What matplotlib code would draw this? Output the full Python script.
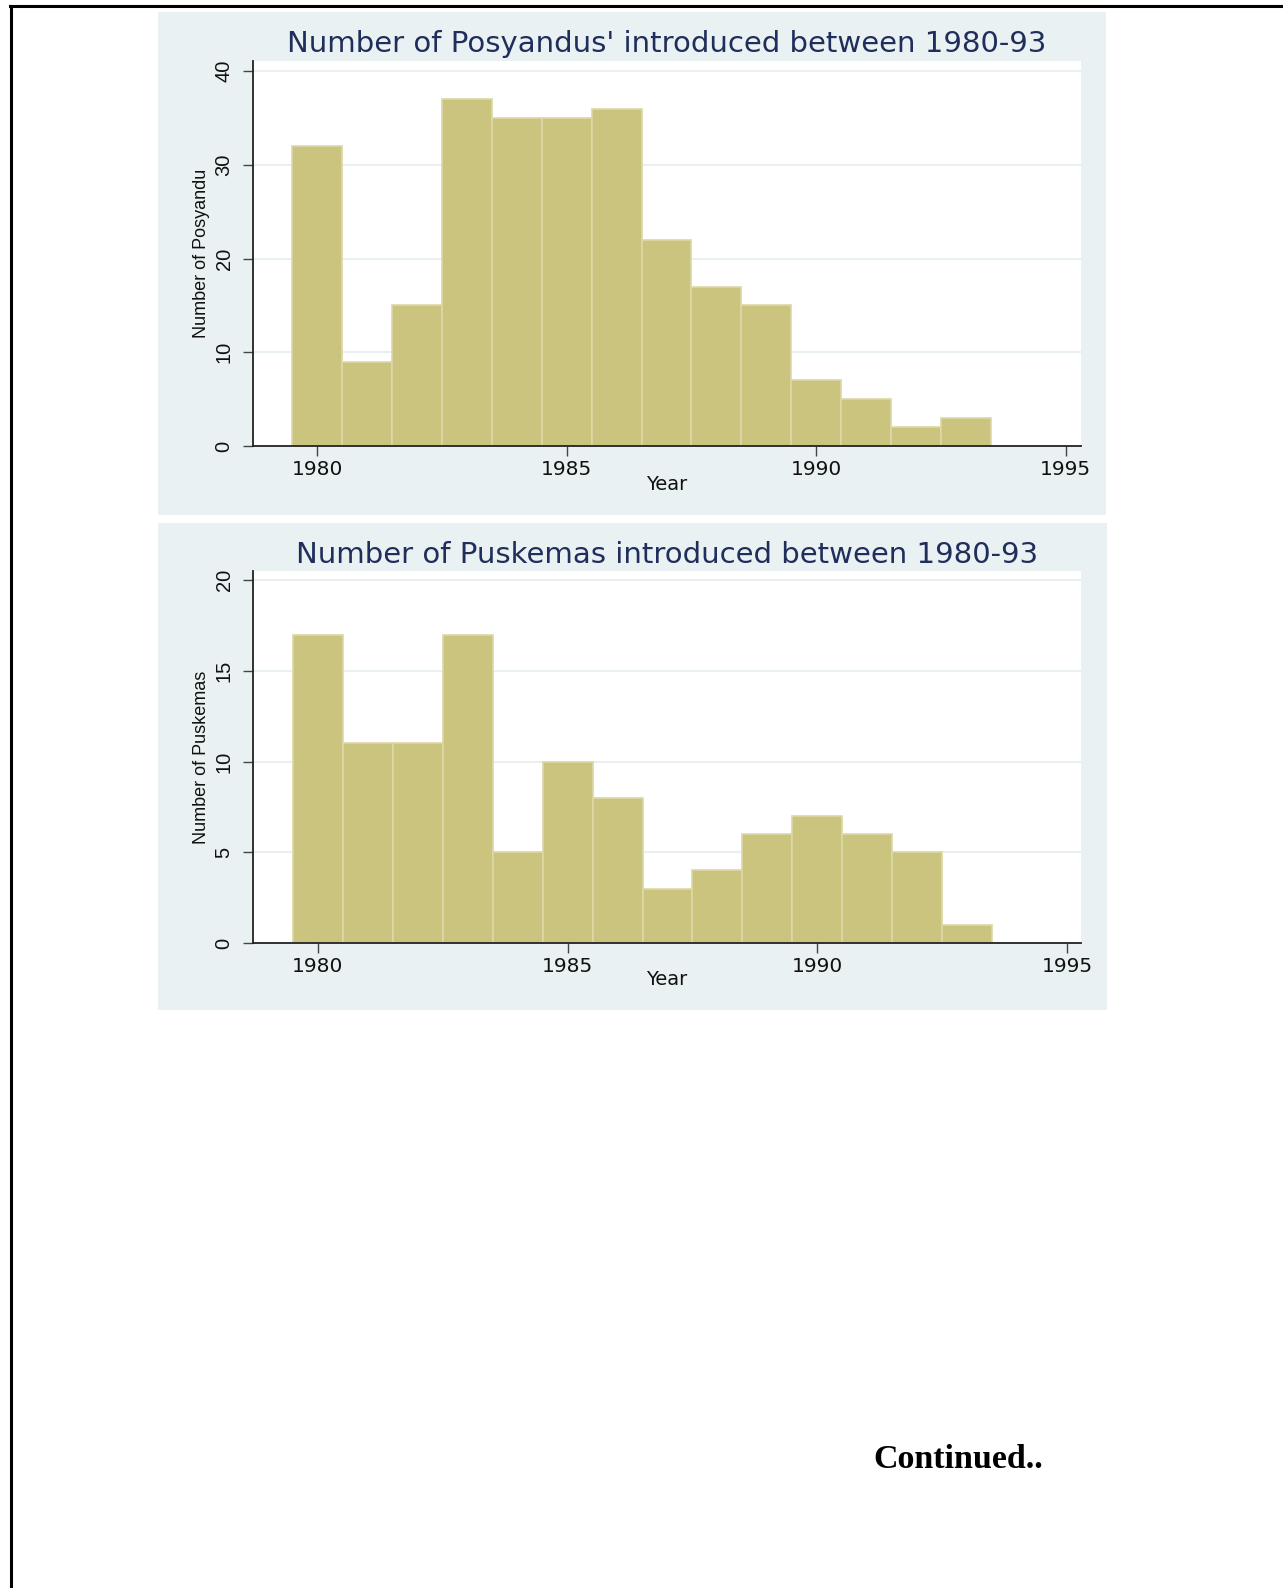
import matplotlib
matplotlib.use("Agg")
import matplotlib.pyplot as plt
from matplotlib.patches import Rectangle
from matplotlib.lines import Line2D

# ── Dados ─────────────────────────────────────────────────────────────────────
years = [1980, 1981, 1982, 1983, 1984, 1985, 1986,
         1987, 1988, 1989, 1990, 1991, 1992, 1993]
posyandu = [32, 9, 15, 37, 35, 35, 36, 22, 17, 15, 7, 5, 2, 3]
puskemas = [17, 11, 11, 17, 5, 10, 8, 3, 4, 6, 7, 6, 5, 1]

x_ticks = [1980, 1985, 1990, 1995]
y_ticks_top = [0, 10, 20, 30, 40]
y_ticks_bottom = [0, 5, 10, 15, 20]

title_top = "Number of Posyandus' introduced between 1980-93"
title_bottom = "Number of Puskemas introduced between 1980-93"
ylabel_top = "Number of Posyandu"
ylabel_bottom = "Number of Puskemas"

# ── Paleta (estilo Stata s2color) ─────────────────────────────────────────────
COLORS = {
    "panel": "#EAF1F3",
    "bar": "#CBC47F",
    "bar_edge": "#DDD8A6",
    "grid": "#E9F0F2",
    "title": "#1F2E5A",
    "axis": "#222222",
}

W, H = 1283, 1588
fig = plt.figure(figsize=(W / 100, H / 100), dpi=100)
fig.patch.set_facecolor("white")


def fx(px):
    return px / W


def fy(py):
    return 1 - py / H


def add_panel(x0, y0, x1, y1):
    fig.patches.append(Rectangle((fx(x0), fy(y1)), fx(x1 - x0), (y1 - y0) / H,
                                 transform=fig.transFigure, facecolor=COLORS["panel"],
                                 edgecolor="none", zorder=-5))


def draw_hist(box, counts, ylim, yticks, xlim, title, ylabel, title_y, ylab_x, xlab_y):
    x0, y0, x1, y1 = box
    ax = fig.add_axes([fx(x0), fy(y1), fx(x1 - x0), (y1 - y0) / H], zorder=2)
    ax.set_facecolor("white")
    ax.bar(years, counts, width=1.0, align="center", color=COLORS["bar"],
           edgecolor=COLORS["bar_edge"], linewidth=1.2, zorder=2)
    ax.set_xlim(*xlim)
    ax.set_ylim(*ylim)
    ax.set_xticks(x_ticks)
    ax.set_yticks(yticks)
    ax.yaxis.grid(True, color=COLORS["grid"], linewidth=1.5)
    ax.set_axisbelow(True)
    for side in ("top", "right"):
        ax.spines[side].set_visible(False)
    for side in ("left", "bottom"):
        ax.spines[side].set_color(COLORS["axis"])
        ax.spines[side].set_linewidth(1.3)
    ax.tick_params(axis="both", length=7, width=1.0, color="#444444")
    ax.tick_params(axis="x", pad=3)
    ax.tick_params(axis="y", pad=7)
    ax.set_xticklabels([str(t) for t in x_ticks], fontsize=14.5,
                       family="DejaVu Sans", color="#111111")
    ax.set_yticklabels([str(t) for t in yticks], fontsize=14.5, rotation=90,
                       va="center", family="Liberation Sans", color="#111111")

    cx = (x0 + x1) / 2
    fig.text(fx(cx), fy(title_y), title, ha="center", va="center",
             fontsize=21, family="DejaVu Sans", color=COLORS["title"])
    fig.text(fx(ylab_x), fy((y0 + y1) / 2), ylabel, ha="center", va="center",
             rotation=90, fontsize=13, family="Liberation Sans", color="#111111")
    fig.text(fx(cx), fy(xlab_y), "Year", ha="center", va="center",
             fontsize=14, family="DejaVu Sans", color="#111111")
    return ax


# painéis de fundo
add_panel(158, 12, 1106, 515)
add_panel(158, 523, 1107, 1010)

draw_hist((253, 61, 1081, 446), posyandu, (0, 41.07), y_ticks_top,
          (1978.71, 1995.31), title_top, ylabel_top,
          title_y=44, ylab_x=201, xlab_y=484)
draw_hist((253, 571, 1081, 943), puskemas, (0, 20.5), y_ticks_bottom,
          (1978.70, 1995.28), title_bottom, ylabel_bottom,
          title_y=555, ylab_x=201, xlab_y=979)

# moldura da página
fig.lines.append(Line2D([fx(10), 1], [fy(6), fy(6)], transform=fig.transFigure,
                        color="black", linewidth=2.2))
fig.lines.append(Line2D([fx(10.5), fx(10.5)], [fy(6), 0], transform=fig.transFigure,
                        color="black", linewidth=2.2))

fig.text(fx(873), fy(1459), "Continued..", ha="left", va="center",
         fontsize=24.5, fontweight="bold", family="Liberation Serif", color="black")

fig.savefig("out.png", dpi=100)
